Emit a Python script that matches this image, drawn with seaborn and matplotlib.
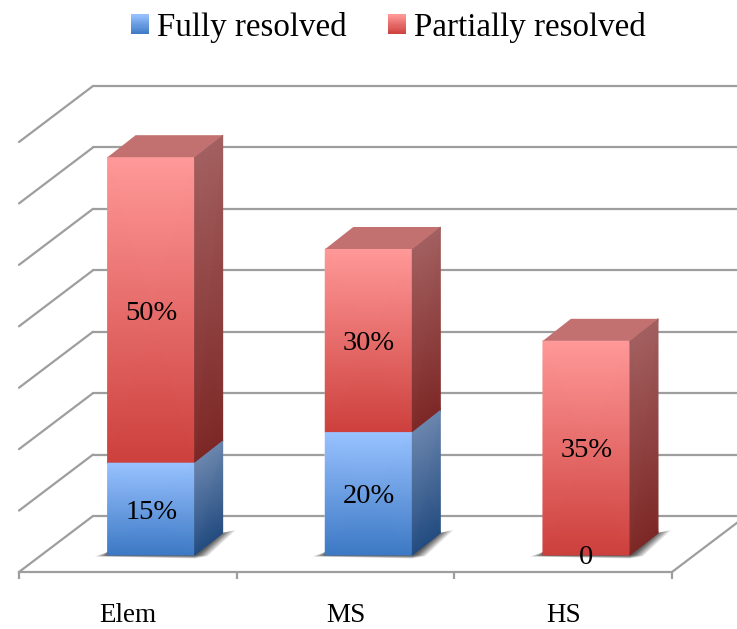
import matplotlib
matplotlib.use("Agg")
import matplotlib.pyplot as plt
import numpy as np
import seaborn as sns
from matplotlib.colors import LinearSegmentedColormap, to_rgb
from matplotlib.legend_handler import HandlerPatch
from matplotlib.patches import Patch, Polygon, Rectangle
from matplotlib.transforms import offset_copy

categories = ["Elem", "MS", "HS"]
fully = [15, 20, 0]
partial = [50, 30, 35]
fully_labels = ["15%", "20%", "0"]
partial_labels = ["50%", "30%", "35%"]
series_names = ["Fully resolved", "Partially resolved"]
wall_levels = [0, 10, 20, 30, 40, 50, 60, 70]

W, H = 737, 629
FONT = "Liberation Serif"
GRID = "#9e9e9e"
BLUE = dict(front=("#3c78c4", "#99c2ff"), side=("#234c80", "#6b86ae"))
RED = dict(front=("#cc3f3c", "#ff9999"), side=("#7d2826", "#a36060"), top="#c27070")

sns.set_theme(style="white")
plt.rcParams["font.family"] = [FONT, "DejaVu Sans"]

fig = plt.figure(figsize=(W / 100, H / 100), dpi=100, facecolor="white")
PX_W, PX_H, FRAME_H = 653.0, 428.4, 430.0
ax = fig.add_axes([19 / W, (H - 572) / H, PX_W / W, FRAME_H / H])
ax_b = fig.add_axes([(19 + 23.3) / W, (H - 555) / H, PX_W / W, PX_H / H])
ax_b.patch.set_alpha(0)

XLIM, YLIM = (-0.5, 2.5), (0, 70)
ux, uy = 3 / PX_W, 70 / PX_H  # data units per pixel, bars
uy_f = 70 / FRAME_H           # data units per pixel, frame
LW = 1.6

# frame: floor, walls, ticks
ax.set_xlim(*XLIM)
ax.set_ylim(*YLIM)
for name in ("top", "left", "right"):
    ax.spines[name].set_visible(False)
ax.spines["bottom"].set_color(GRID)
ax.spines["bottom"].set_linewidth(LW)
ax.set_yticks([])
ax.set_xticks(range(len(categories)))
ax.set_xticklabels(categories, fontsize=19.5, color="black", family=FONT)
ax.set_xticks([-0.5, 0.5, 1.5, 2.5], minor=True)
ax.tick_params(axis="x", which="major", length=0, pad=22)
ax.tick_params(axis="x", which="minor", length=5, width=LW, color=GRID, bottom=True)
dx, dy = 74 * ux, 56 * uy_f
for v in wall_levels:
    ax.plot([-0.5, -0.5 + dx], [v, v + dy], color=GRID, lw=LW, clip_on=False, solid_capstyle="round")
    ax.plot([-0.5 + dx, 2.5 + dx], [v + dy, v + dy], color=GRID, lw=LW, clip_on=False)
ax.plot([2.5, 2.5 + dx], [0, dy], color=GRID, lw=LW, clip_on=False)

# bars
positions = np.arange(len(categories))
totals = [a + b for a, b in zip(fully, partial)]
sns.barplot(x=positions, y=totals, color=RED["front"][1], saturation=1, width=0.4,
            native_scale=True, ax=ax_b)
n_red = len(ax_b.patches)
sns.barplot(x=positions, y=fully, color=BLUE["front"][1], saturation=1, width=0.4,
            native_scale=True, ax=ax_b)
ax_b.set_xlim(*XLIM)
ax_b.set_ylim(*YLIM)
ax_b.axis("off")
red_bars = list(ax_b.patches[:n_red])
bx, by = 28 * ux, 22 * uy
label_tf = offset_copy(ax_b.transData, fig=fig, x=0, y=-3, units="dots")


def ramp(pair):
    return LinearSegmentedColormap.from_list("r", [to_rgb(pair[0]), to_rgb(pair[1])])


def segment(x0, x1, y0, y1, style, z):
    X = np.array([[x0, x1], [x0, x1]])
    Y = np.array([[y0, y0], [y1, y1]])
    C = np.array([[0.0, 0.0], [1.0, 1.0]])
    ax_b.pcolormesh(X, Y, C, shading="gouraud", cmap=ramp(style["front"]), zorder=z, clip_on=False)
    X2 = np.array([[x1, x1 + bx], [x1, x1 + bx]])
    Y2 = np.array([[y0, y0 + by], [y1, y1 + by]])
    ax_b.pcolormesh(X2, Y2, C, shading="gouraud", cmap=ramp(style["side"]), zorder=z, clip_on=False)


for i, bar in enumerate(red_bars):
    x0, x1 = bar.get_x(), bar.get_x() + bar.get_width()
    base = fully[i]
    top = totals[i]
    # soft shadow on the floor
    for grow, alpha in ((1.0, 0.14), (0.8, 0.16), (0.6, 0.18), (0.4, 0.22), (0.2, 0.26), (0.0, 0.3)):
        ax_b.add_patch(Polygon(
            [(x0 - (1 + 12 * grow) * ux, -(0.5 + 1.0 * grow) * uy),
             (x1, -(1 + 2.5 * grow) * uy),
             (x1 + (4 + 9 * grow) * ux, -(0 + 1 * grow) * uy),
             (x1 + bx + (1 + 12 * grow) * ux, by + (0.5 + 2.5 * grow) * uy),
             (x1 + bx, by),
             (x0, 3 * uy)],
            closed=True, fc="#303030", ec="none", alpha=alpha, zorder=1, clip_on=False))
    segment(x0, x1, base, top, RED, 2)
    ax_b.add_patch(Polygon([(x0, top), (x1, top), (x1 + bx, top + by), (x0 + bx, top + by)],
                           closed=True, fc=RED["top"], ec="none", zorder=3, clip_on=False))
    if fully[i] > 0:
        segment(x0, x1, 0, base, BLUE, 4)
    ax_b.text(i, base + partial[i] / 2, partial_labels[i], ha="center", va="center",
              fontsize=20.5, color="black", zorder=6, transform=label_tf)
    ax_b.text(i, fully[i] / 2, fully_labels[i], ha="center", va="center",
              fontsize=20.5, color="black", zorder=6, clip_on=False, transform=label_tf)


class GradientHandler(HandlerPatch):
    def __init__(self, pair):
        super().__init__()
        self.pair = pair

    def create_artists(self, legend, orig, xd, yd, width, height, fontsize, trans):
        cmap = ramp(self.pair)
        n = 18
        out = []
        for k in range(n):
            r = Rectangle((-xd, -yd + height * k / n), width, height / n + 0.3,
                          fc=cmap((k + 0.5) / n), ec="none", transform=trans)
            out.append(r)
        return out


FS = 23.8
PXF = FS * 100 / 72
h1, h2 = Patch(label=series_names[0]), Patch(label=series_names[1])
leg = fig.legend(handles=[h1, h2], ncol=2, loc="upper left", bbox_to_anchor=(131 / W, 1 - 12 / H),
                 frameon=False, fontsize=FS, labelcolor="black", borderpad=0, borderaxespad=0,
                 handlelength=18 / PXF, handleheight=18 / PXF, handletextpad=8 / PXF,
                 columnspacing=41 / PXF,
                 handler_map={h1: GradientHandler(BLUE["front"]), h2: GradientHandler(RED["front"])})

fig.savefig("out.png", dpi=100, facecolor="white")
